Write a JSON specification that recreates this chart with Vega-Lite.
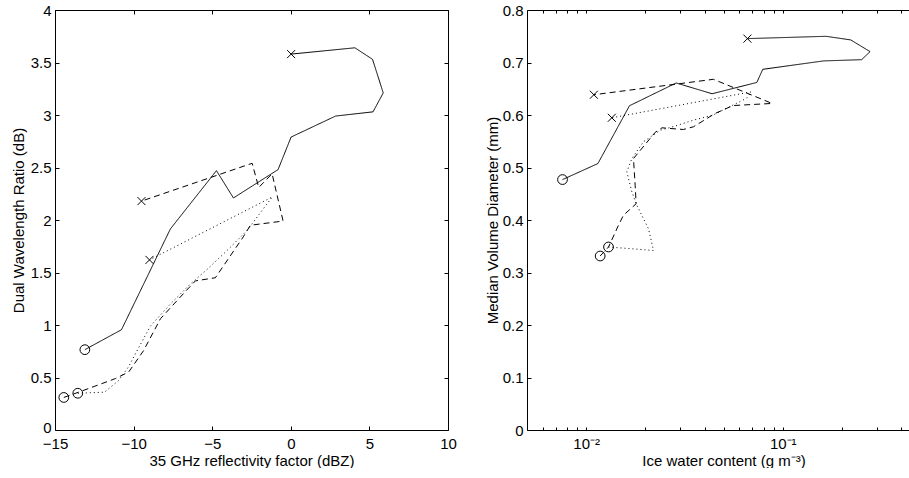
{
  "$schema": "https://vega.github.io/schema/vega-lite/v6.json",
  "background": "white",
  "padding": {"left": 11, "top": 3, "right": 0, "bottom": 0},
  "bounds": "flush",
  "spacing": 79,
  "config": {
    "view": {"stroke": null},
    "font": "Liberation Sans",
    "axis": {
      "labelFont": "Liberation Sans", "labelFontSize": 15, "labelColor": "black",
      "titleFont": "Liberation Sans", "titleFontSize": 15, "titleFontWeight": "normal", "titleColor": "black",
      "domainColor": "black", "domainWidth": 1, "tickColor": "black", "tickWidth": 1,
      "grid": false, "tickSize": -4, "labelPadding": 8, "labelFlush": false, "labelOverlap": false
    }
  },
  "datasets": {
    "L": [
      {"s": "solid", "i": 1, "x": -13.1, "y": 0.765, "m": "o"},
      {"s": "solid", "i": 2, "x": -10.77, "y": 0.955, "m": ""},
      {"s": "solid", "i": 3, "x": -7.66, "y": 1.915, "m": ""},
      {"s": "solid", "i": 4, "x": -4.73, "y": 2.47, "m": ""},
      {"s": "solid", "i": 5, "x": -3.65, "y": 2.21, "m": ""},
      {"s": "solid", "i": 6, "x": -0.81, "y": 2.48, "m": ""},
      {"s": "solid", "i": 7, "x": 0.02, "y": 2.79, "m": ""},
      {"s": "solid", "i": 8, "x": 2.85, "y": 2.99, "m": ""},
      {"s": "solid", "i": 9, "x": 5.23, "y": 3.03, "m": ""},
      {"s": "solid", "i": 10, "x": 5.88, "y": 3.21, "m": ""},
      {"s": "solid", "i": 11, "x": 5.2, "y": 3.53, "m": ""},
      {"s": "solid", "i": 12, "x": 4.08, "y": 3.64, "m": ""},
      {"s": "solid", "i": 13, "x": 0.02, "y": 3.58, "m": "x"},
      {"s": "dashed", "i": 1, "x": -14.44, "y": 0.31, "m": "o"},
      {"s": "dashed", "i": 2, "x": -13.5, "y": 0.36, "m": ""},
      {"s": "dashed", "i": 3, "x": -11.15, "y": 0.49, "m": ""},
      {"s": "dashed", "i": 4, "x": -10.31, "y": 0.553, "m": ""},
      {"s": "dashed", "i": 5, "x": -9.37, "y": 0.755, "m": ""},
      {"s": "dashed", "i": 6, "x": -8.29, "y": 1.06, "m": ""},
      {"s": "dashed", "i": 7, "x": -6.7, "y": 1.32, "m": ""},
      {"s": "dashed", "i": 8, "x": -6.07, "y": 1.42, "m": ""},
      {"s": "dashed", "i": 9, "x": -4.8, "y": 1.45, "m": ""},
      {"s": "dashed", "i": 10, "x": -3.02, "y": 1.84, "m": ""},
      {"s": "dashed", "i": 11, "x": -2.57, "y": 1.95, "m": ""},
      {"s": "dashed", "i": 12, "x": -0.49, "y": 1.99, "m": ""},
      {"s": "dashed", "i": 13, "x": -1.19, "y": 2.44, "m": ""},
      {"s": "dashed", "i": 14, "x": -2.04, "y": 2.31, "m": ""},
      {"s": "dashed", "i": 15, "x": -2.46, "y": 2.54, "m": ""},
      {"s": "dashed", "i": 16, "x": -9.5, "y": 2.18, "m": "x"},
      {"s": "dotted", "i": 1, "x": -13.55, "y": 0.35, "m": "o"},
      {"s": "dotted", "i": 2, "x": -11.85, "y": 0.36, "m": ""},
      {"s": "dotted", "i": 3, "x": -10.96, "y": 0.47, "m": ""},
      {"s": "dotted", "i": 4, "x": -10.33, "y": 0.6, "m": ""},
      {"s": "dotted", "i": 5, "x": -9.69, "y": 0.78, "m": ""},
      {"s": "dotted", "i": 6, "x": -8.93, "y": 0.99, "m": ""},
      {"s": "dotted", "i": 7, "x": -7.66, "y": 1.2, "m": ""},
      {"s": "dotted", "i": 8, "x": -6.39, "y": 1.39, "m": ""},
      {"s": "dotted", "i": 9, "x": -5.32, "y": 1.53, "m": ""},
      {"s": "dotted", "i": 10, "x": -4.05, "y": 1.71, "m": ""},
      {"s": "dotted", "i": 11, "x": -2.78, "y": 1.9, "m": ""},
      {"s": "dotted", "i": 12, "x": -1.81, "y": 2.095, "m": ""},
      {"s": "dotted", "i": 13, "x": -1.17, "y": 2.22, "m": ""},
      {"s": "dotted", "i": 14, "x": -8.99, "y": 1.62, "m": "x"}
    ],
    "R": [
      {"s": "solid", "i": 1, "x": 0.00758, "y": 0.477, "m": "o"},
      {"s": "solid", "i": 2, "x": 0.01147, "y": 0.5075, "m": ""},
      {"s": "solid", "i": 3, "x": 0.0166, "y": 0.6176, "m": ""},
      {"s": "solid", "i": 4, "x": 0.0287, "y": 0.661, "m": ""},
      {"s": "solid", "i": 5, "x": 0.0437, "y": 0.6405, "m": ""},
      {"s": "solid", "i": 6, "x": 0.0738, "y": 0.662, "m": ""},
      {"s": "solid", "i": 7, "x": 0.0791, "y": 0.687, "m": ""},
      {"s": "solid", "i": 8, "x": 0.161, "y": 0.703, "m": ""},
      {"s": "solid", "i": 9, "x": 0.252, "y": 0.7054, "m": ""},
      {"s": "solid", "i": 10, "x": 0.278, "y": 0.7207, "m": ""},
      {"s": "solid", "i": 11, "x": 0.2217, "y": 0.743, "m": ""},
      {"s": "solid", "i": 12, "x": 0.166, "y": 0.7499, "m": ""},
      {"s": "solid", "i": 13, "x": 0.0661, "y": 0.7455, "m": "x"},
      {"s": "dashed", "i": 1, "x": 0.01178, "y": 0.3314, "m": "o"},
      {"s": "dashed", "i": 2, "x": 0.01299, "y": 0.3486, "m": ""},
      {"s": "dashed", "i": 3, "x": 0.0146, "y": 0.39, "m": ""},
      {"s": "dashed", "i": 4, "x": 0.01547, "y": 0.409, "m": ""},
      {"s": "dashed", "i": 5, "x": 0.01795, "y": 0.431, "m": ""},
      {"s": "dashed", "i": 6, "x": 0.01775, "y": 0.466, "m": ""},
      {"s": "dashed", "i": 7, "x": 0.0174, "y": 0.517, "m": ""},
      {"s": "dashed", "i": 8, "x": 0.0224, "y": 0.5667, "m": ""},
      {"s": "dashed", "i": 9, "x": 0.0243, "y": 0.5756, "m": ""},
      {"s": "dashed", "i": 10, "x": 0.0312, "y": 0.5724, "m": ""},
      {"s": "dashed", "i": 11, "x": 0.0351, "y": 0.5775, "m": ""},
      {"s": "dashed", "i": 12, "x": 0.0453, "y": 0.603, "m": ""},
      {"s": "dashed", "i": 13, "x": 0.0558, "y": 0.618, "m": ""},
      {"s": "dashed", "i": 14, "x": 0.0882, "y": 0.622, "m": ""},
      {"s": "dashed", "i": 15, "x": 0.0444, "y": 0.668, "m": ""},
      {"s": "dashed", "i": 16, "x": 0.01094, "y": 0.6386, "m": "x"},
      {"s": "dotted", "i": 1, "x": 0.01299, "y": 0.3486, "m": "o"},
      {"s": "dotted", "i": 2, "x": 0.022, "y": 0.342, "m": ""},
      {"s": "dotted", "i": 3, "x": 0.02074, "y": 0.3835, "m": ""},
      {"s": "dotted", "i": 4, "x": 0.0181, "y": 0.428, "m": ""},
      {"s": "dotted", "i": 5, "x": 0.01708, "y": 0.4535, "m": ""},
      {"s": "dotted", "i": 6, "x": 0.0161, "y": 0.4917, "m": ""},
      {"s": "dotted", "i": 7, "x": 0.01708, "y": 0.517, "m": ""},
      {"s": "dotted", "i": 8, "x": 0.01955, "y": 0.549, "m": ""},
      {"s": "dotted", "i": 9, "x": 0.0238, "y": 0.571, "m": ""},
      {"s": "dotted", "i": 10, "x": 0.0278, "y": 0.578, "m": ""},
      {"s": "dotted", "i": 11, "x": 0.035, "y": 0.59, "m": ""},
      {"s": "dotted", "i": 12, "x": 0.0443, "y": 0.6, "m": ""},
      {"s": "dotted", "i": 13, "x": 0.0655, "y": 0.632, "m": ""},
      {"s": "dotted", "i": 14, "x": 0.069, "y": 0.644, "m": ""},
      {"s": "dotted", "i": 15, "x": 0.0135, "y": 0.5947, "m": "x"}
    ]
  },
  "hconcat": [
    {
      "width": 393,
      "height": 420,
      "data": {"name": "L"},
      "layer": [
        {
          "mark": {"type": "line", "strokeWidth": 1, "color": "black"},
          "encoding": {
            "x": {"field": "x", "type": "quantitative", "scale": {"domain": [-15, 10], "nice": false, "zero": false},
                  "axis": {"orient": "bottom", "values": [-15, -10, -5, 0, 5, 10], "format": "d", "labelPadding": 10, "titlePadding": 2, "title": "35 GHz reflectivity factor (dBZ)"}},
            "y": {"field": "y", "type": "quantitative", "scale": {"domain": [0, 4], "nice": false, "zero": false},
                  "axis": {"orient": "left", "values": [0, 0.5, 1, 1.5, 2, 2.5, 3, 3.5, 4], "format": ".1~f", "titlePadding": 4,
                           "labelOffset": {"condition": {"test": "datum.value == 0", "value": -3}, "value": 0},
                           "title": "Dual Wavelength Ratio (dB)"}},
            "strokeDash": {"field": "s", "type": "nominal", "scale": {"domain": ["solid", "dashed", "dotted"], "range": [[1, 0], [6, 4], [1, 3]]}, "legend": null},
            "order": {"field": "i", "type": "quantitative"}
          }
        },
        {
          "transform": [{"filter": "datum.m == 'o'"}],
          "mark": {"type": "point", "shape": "circle", "size": 95, "filled": false, "color": "black", "strokeWidth": 1, "opacity": 1},
          "encoding": {
            "x": {"field": "x", "type": "quantitative", "axis": {"orient": "top", "values": [-15, -10, -5, 0, 5, 10], "labels": false, "title": null}},
            "y": {"field": "y", "type": "quantitative", "axis": {"orient": "right", "values": [0, 0.5, 1, 1.5, 2, 2.5, 3, 3.5, 4], "labels": false, "title": null}}
          }
        },
        {
          "transform": [{"filter": "datum.m == 'x'"}],
          "mark": {"type": "point", "shape": "M-1,-1L1,1M-1,1L1,-1", "size": 64, "filled": false, "color": "black", "strokeWidth": 1, "opacity": 1},
          "encoding": {
            "x": {"field": "x", "type": "quantitative", "axis": null},
            "y": {"field": "y", "type": "quantitative", "axis": null}
          }
        }
      ],
      "resolve": {"axis": {"x": "independent", "y": "independent"}}
    },
    {
      "width": 382,
      "height": 420,
      "data": {"name": "R"},
      "layer": [
        {
          "mark": {"type": "line", "strokeWidth": 1, "color": "black"},
          "encoding": {
            "x": {"field": "x", "type": "quantitative", "scale": {"type": "log", "domain": [0.005, 0.4386], "nice": false},
                  "axis": {"orient": "bottom", "tickSize": -3, "labelPadding": 9, "titlePadding": 2, "titleX": 196.5,
                           "values": [0.006, 0.007, 0.008, 0.009, 0.01, 0.02, 0.03, 0.04, 0.05, 0.06, 0.07, 0.08, 0.09, 0.1, 0.2, 0.3, 0.4],
                           "labelExpr": "datum.value == 0.01 ? '10⁻²' : (datum.value == 0.1 ? '10⁻¹' : '')",
                           "title": "Ice water content (g m⁻³)"}},
            "y": {"field": "y", "type": "quantitative", "scale": {"domain": [0, 0.8], "nice": false, "zero": false},
                  "axis": {"orient": "left", "values": [0, 0.1, 0.2, 0.3, 0.4, 0.5, 0.6, 0.7, 0.8], "format": ".1~f", "titlePadding": 2, "title": "Median Volume Diameter (mm)"}},
            "strokeDash": {"field": "s", "type": "nominal", "scale": {"domain": ["solid", "dashed", "dotted"], "range": [[1, 0], [6, 4], [1, 3]]}, "legend": null},
            "order": {"field": "i", "type": "quantitative"}
          }
        },
        {
          "transform": [{"filter": "datum.m == 'o'"}],
          "mark": {"type": "point", "shape": "circle", "size": 95, "filled": false, "color": "black", "strokeWidth": 1, "opacity": 1},
          "encoding": {
            "x": {"field": "x", "type": "quantitative", "axis": {"orient": "top", "tickSize": -3, "values": [0.006, 0.007, 0.008, 0.009, 0.01, 0.02, 0.03, 0.04, 0.05, 0.06, 0.07, 0.08, 0.09, 0.1, 0.2, 0.3, 0.4], "labels": false, "title": null}},
            "y": {"field": "y", "type": "quantitative", "axis": null}
          }
        },
        {
          "transform": [{"filter": "datum.m == 'x'"}],
          "mark": {"type": "point", "shape": "M-1,-1L1,1M-1,1L1,-1", "size": 64, "filled": false, "color": "black", "strokeWidth": 1, "opacity": 1},
          "encoding": {
            "x": {"field": "x", "type": "quantitative", "axis": null},
            "y": {"field": "y", "type": "quantitative", "axis": null}
          }
        }
      ],
      "resolve": {"axis": {"x": "independent", "y": "independent"}}
    }
  ]
}
